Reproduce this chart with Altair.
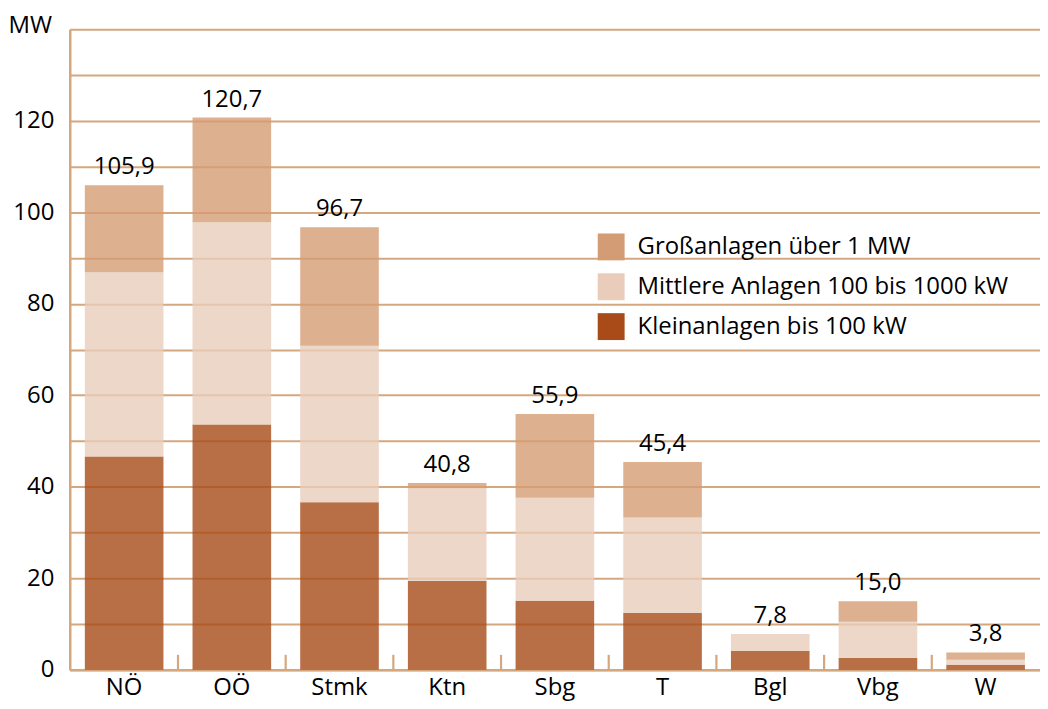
import altair as alt
import pandas as pd

regions = ["NÖ", "OÖ", "Stmk", "Ktn", "Sbg", "T", "Bgl", "Vbg", "W"]
totals = [105.9, 120.7, 96.7, 40.8, 55.9, 45.4, 7.8, 15.0, 3.8]
klein = [46.6, 53.6, 36.6, 19.4, 15.1, 12.4, 4.1, 2.6, 1.1]
mittel = [40.3, 44.2, 34.2, 20.3, 22.5, 20.9, 3.7, 7.9, 1.1]
series = ["Großanlagen über 1 MW", "Mittlere Anlagen 100 bis 1000 kW", "Kleinanlagen bis 100 kW"]
colors = ["#d49c74", "#e9cdba", "#a84b18"]

rows = []
for r, t, k, m in zip(regions, totals, klein, mittel):
    g = round(t - k - m, 1)
    rows.append({"region": r, "series": series[2], "value": k, "ord": 0})
    rows.append({"region": r, "series": series[1], "value": m, "ord": 1})
    rows.append({"region": r, "series": series[0], "value": g, "ord": 2})
df = pd.DataFrame(rows)
lab = pd.DataFrame({"region": regions, "total": totals,
                    "label": [f"{v:.1f}".replace(".", ",") for v in totals]})
seps = pd.DataFrame({"region": regions[:-1]})

W, H = 974, 643
AX = "#d4a77e"
PI, PO = 0.27, 0.14
step = W / (len(regions) - PI + 2 * PO)

xscale = alt.Scale(paddingInner=PI, paddingOuter=PO)
yscale = alt.Scale(domain=[0, 140], nice=False)
FS = 24

bars = alt.Chart(df).mark_bar(opacity=0.8).encode(
    x=alt.X("region:N", sort=regions, scale=xscale,
            axis=alt.Axis(title=None, labelFontSize=FS, labelColor="black", labelPadding=6,
                          labelAngle=0, domainColor=AX, domainWidth=2.5, ticks=False)),
    y=alt.Y("value:Q", stack="zero", scale=yscale,
            axis=alt.Axis(title="MW", titleAngle=0, titleAlign="left", titleBaseline="middle",
                          titleX=-62, titleY=-4, titleFontSize=FS, titleFontWeight="normal",
                          titleColor="black", values=list(range(0, 141, 10)),
                          labelExpr="(datum.value % 20 == 0 && datum.value < 140) ? datum.label : ''",
                          labelFontSize=FS, labelColor="black", labelPadding=16, ticks=False,
                          domainColor=AX, domainWidth=2.5, gridColor=AX, gridWidth=2, gridOpacity=1)),
    color=alt.Color("series:N", scale=alt.Scale(domain=series, range=colors),
                    legend=alt.Legend(title=None, orient="none", legendX=530, legendY=205,
                                      symbolType="square", symbolSize=729, symbolOpacity=1,
                                      symbolStrokeWidth=0, labelFontSize=FS, labelColor="black",
                                      rowPadding=13, labelOffset=13, labelLimit=700)),
    order=alt.Order("ord:Q"),
)

ticks = alt.Chart(seps).mark_rule(color=AX, strokeWidth=2.2, xOffset=step * PI / 2).encode(
    x=alt.X("region:N", sort=regions, scale=xscale, bandPosition=1),
    y=alt.value(H - 15),
    y2=alt.value(H),
)

text = alt.Chart(lab).mark_text(dy=-11, fontSize=FS, color="black", baseline="alphabetic").encode(
    x=alt.X("region:N", sort=regions, scale=xscale),
    y=alt.Y("total:Q", scale=yscale),
    text="label:N",
)

chart = alt.layer(bars, ticks, text).properties(
    width=W, height=H, padding={"left": 0, "top": 4, "right": 0, "bottom": 0}
).configure_view(stroke=None).configure(font="Open Sans")

chart.save("out.html", embed_options={"renderer": "svg", "actions": False})
